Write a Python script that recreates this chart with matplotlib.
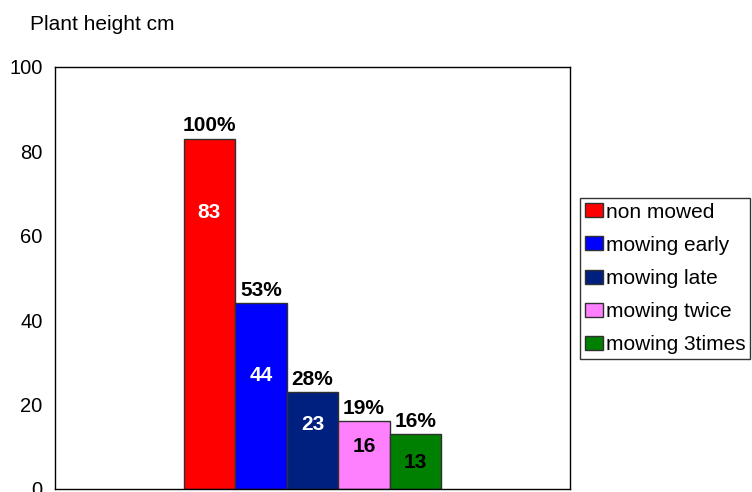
import matplotlib
matplotlib.use("Agg")
import matplotlib.pyplot as plt
from matplotlib.patches import Patch

categories = ["non mowed", "mowing early", "mowing late", "mowing twice", "mowing 3times"]
values = [83, 44, 23, 16, 13]
percents = ["100%", "53%", "28%", "19%", "16%"]
yticks = [0, 20, 40, 60, 80, 100]

# layout / style
colors = ["#FF0000", "#0000FF", "#00207F", "#FF80FF", "#008000"]
label_colors = ["white", "white", "white", "black", "black"]
label_y = [65.5, 27, 15.2, 10, 6.2]

plt.rcParams["font.family"] = ["Liberation Sans", "DejaVu Sans"]

W, H = 752, 492
fig = plt.figure(figsize=(W / 100, H / 100), dpi=100)
ax = fig.add_axes([55 / W, (H - 489) / H, (570 - 55) / W, (489 - 67) / H])

bw = 0.1
x0 = 0.25
for i, (c, v) in enumerate(zip(categories, values)):
    x = x0 + i * bw
    ax.bar(x, v, width=bw, align="edge", color=colors[i], edgecolor="#303030",
           linewidth=1.0, label=c)
    ax.text(x + bw / 2, v + 0.8, percents[i], ha="center", va="bottom",
            fontsize=15, fontweight="bold", color="black")
    ax.text(x + bw / 2, label_y[i], str(v), ha="center", va="center",
            fontsize=15, fontweight="bold", color=label_colors[i])

ax.set_xlim(0, 1)
ax.set_ylim(0, 100)
ax.set_yticks(yticks)
ax.set_xticks([])
ax.tick_params(axis="y", length=0, pad=9, labelsize=14.5)
for s in ax.spines.values():
    s.set_color("black")
    s.set_linewidth(1.0)

fig.text(30 / W, 1 - 25 / H, "Plant height cm", ha="left", va="center", fontsize=15)

handles = [Patch(facecolor=colors[i], edgecolor="#303030", linewidth=1.0, label=categories[i])
           for i in range(len(categories))]
leg = fig.legend(handles=handles, loc="upper left", bbox_to_anchor=(580 / W, 1 - 198 / H),
                 frameon=True, fancybox=False, edgecolor="black", fontsize=15,
                 handlelength=0.9, handleheight=0.65, handletextpad=0.12,
                 labelspacing=0.68, borderpad=0.22, borderaxespad=0)
leg.get_frame().set_linewidth(1.0)

fig.savefig("out.png", dpi=100)
